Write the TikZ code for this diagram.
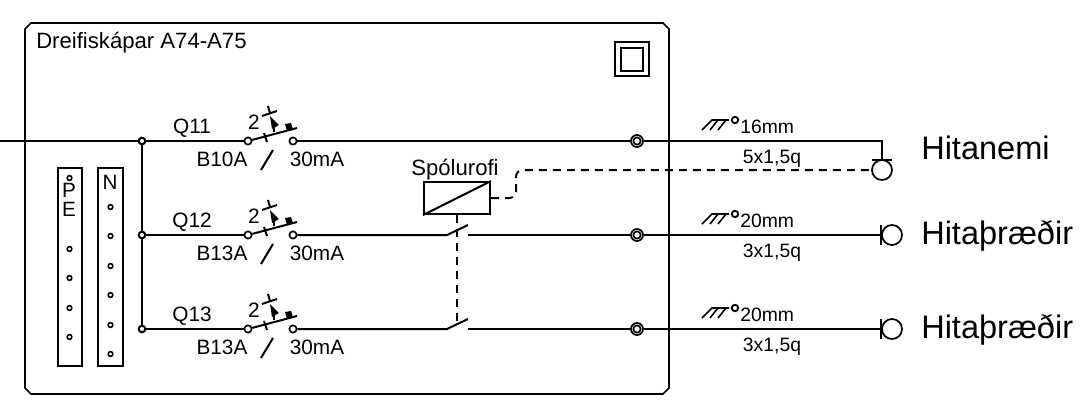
\documentclass[tikz,border=0pt]{standalone}
\usepackage{fontspec}
\setmainfont{Liberation Sans}
\tikzset{
	wire/.style={line width=1.5pt},
	ctrl/.style={line width=1.5pt, dash pattern=on 6pt off 4.5pt},
	term/.style={circle, draw, line width=1.2pt, fill=white, inner sep=0pt, minimum size=5.5pt},
	klemma/.style={circle, draw, line width=1.3pt, inner sep=0pt, minimum size=9pt},
	dot/.style={circle, draw, line width=1.2pt, fill=white, inner sep=0pt, minimum size=3.5pt},
	junc/.style={circle, draw, line width=1.5pt, inner sep=0pt, minimum size=5pt},
	lamp/.style={circle, draw, line width=1.3pt, inner sep=0pt, minimum size=15pt},
	small/.style={font=\fontsize{14.5}{16}\selectfont, inner sep=0pt},
	cad/.style={font=\fontsize{15.6}{16}\selectfont, inner sep=0pt},
	stor/.style={font=\fontsize{16.6}{18}\selectfont, inner sep=0pt, anchor=base},
	big/.style={font=\fontsize{24.4}{28}\selectfont, inner sep=0pt, anchor=base west},
	relay/.style={draw, line width=1.5pt, inner sep=0pt, minimum width=49.5pt, minimum height=24pt}
}
\begin{document}
\begin{tikzpicture}[x=0.75pt,y=-0.75pt]
	\useasboundingbox (0,0) rectangle (1083,405);

	% skapur
	\draw[line width=1.3pt] (31,23) -- (663,23) -- (669,29) -- (669,388) -- (663,394) -- (31,394) -- (25,388) -- (25,29) -- cycle;
	\node[stor, anchor=base west] (titill) at (36,48) {Dreifiskápar A74-A75};
	% tvoeinangrun
	\draw[line width=1.3pt] (615,42) rectangle (649,76);
	\draw[line width=1.3pt] (621,48) rectangle (643,71);

	% skinnur
	\draw[line width=1.3pt] (58,168) rectangle (82,366);
	\draw[line width=1.3pt] (98,168) rectangle (123,366);
	\node[small, font=\fontsize{15.5}{16}\selectfont] (pe1) at (69,190) {P};
	\node[small, font=\fontsize{15.5}{16}\selectfont] (pe2) at (69,209.5) {E};
	\node[small, font=\fontsize{15.5}{16}\selectfont] (nskinna) at (110,182.5) {N};
	\foreach \y in {178,249,278,308,337}
		\node[dot] (pe\y) at (69.5,\y) {};
	\foreach \y in {207,236,266,295,325,354}
		\node[dot] (n\y) at (110.5,\y) {};

	% innleidsla
	\coordinate (inn) at (0,141);
	\node[junc] (j1) at (142,141) {};
	\node[junc] (j2) at (142,235) {};
	\node[junc] (j3) at (142,329) {};
	\draw[wire] (inn) -- (j1);
	\draw[wire] (j1) -- (j2);
	\draw[wire] (j2) -- (j3);

	% greinar
	\foreach \i/\y/\q/\b/\d/\c in {1/141/Q11/B10A/16mm/{5x1,5q}, 2/235/Q12/B13A/20mm/{3x1,5q}, 3/329/Q13/B13A/20mm/{3x1,5q}} {
		\begin{scope}[shift={(0,\y)}]
			\node[term] (s\i) at (248,0) {};
			\node[term] (e\i) at (293,0) {};
			\node[klemma] (v\i) at (637,0) {};
			\node[term, fill=none] (u\i) at (637,0) {};
			\draw[wire] (j\i) -- (s\i);
			\draw[wire] (s\i) -- (297,-13);
			\draw[wire] (264,-8) -- (267,1);
			\draw[wire] (274,-9) -- (274,-15);
			\fill (270,-25) -- (279,-16) -- (272,-12) -- cycle;
			\fill (285,-17) -- (291,-18) -- (293,-12) -- (287,-10) -- cycle;
			\draw[wire] (262,-25) -- (277,-30);
			\draw[wire] (268,-35) -- (270,-28);
			\draw[wire] (261,29) -- (273,9);
			\node[cad] (tveir\i) at (254,-19) {2};
			\node[cad] (\q) at (192,-12.5) {\q};
			\node[cad] (b\i) at (222,18.5) {\b};
			\node[cad] (ma\i) at (317,18.5) {30mA};
			% lagnaleid
			\draw[line width=1.2pt] (702,-11) -- (712,-21) -- (729,-21) (710,-11) -- (718,-21) (718,-11) -- (726,-21);
			\draw[line width=1.4pt] (735,-21) circle [radius=3.2];
			\node[small, anchor=west] (d\i) at (740,-14.5) {\d};
			\node[small] (c\i) at (772,17.5) {\c};
		\end{scope}
	}

	% spolurofi
	\node[relay] (rofi) at (457,198) {};
	\draw[wire] (rofi.south west) -- (rofi.north east);
	\node[stor] (rofitxt) at (455,175) {Spólurofi};

	% snertur
	\coordinate (k2) at (468,225);
	\coordinate (k3) at (468,319);
	\coordinate (a2) at (447,235);
	\coordinate (a3) at (447,329);
	\coordinate (b2) at (468,235);
	\coordinate (b3) at (468,329);
	\draw[wire] (e1) -- (v1);
	\draw[wire] (e2) -- (a2) -- (k2);
	\draw[wire] (b2) -- (v2);
	\draw[wire] (e3) -- (a3) -- (k3);
	\draw[wire] (b3) -- (v3);
	\coordinate (stop) at (457,325);
	\draw[ctrl] (rofi.south) -- (stop);

	% nemi
	\node[lamp] (nemi) at (882,170) {};
	\coordinate (horn) at (882,141);
	\coordinate (tein) at (882,160);
	\draw[wire] (v1) -- (horn) -- (tein);
	\draw[wire] (872,160) -- (892,160);
	\draw[ctrl, rounded corners=5pt] (rofi.east) -- (516,198) -- (516,170) -- (nemi.west);
	\node[big] (hitanemi) at (921,159.3) {Hitanemi};

	% hitatradur
	\node[lamp] (h2) at (892,235) {};
	\node[lamp] (h3) at (892,329) {};
	\draw[wire] (v2) -- (h2.west);
	\draw[wire] (v3) -- (h3.west);
	\draw[wire] (h2.west) ++(0,-10) -- ++(0,20);
	\draw[wire] (h3.west) ++(0,-10) -- ++(0,20);
	\node[big] (hitar2) at (921,244) {Hitaþræðir};
	\node[big] (hitar3) at (921,338) {Hitaþræðir};
\end{tikzpicture}
\end{document}
